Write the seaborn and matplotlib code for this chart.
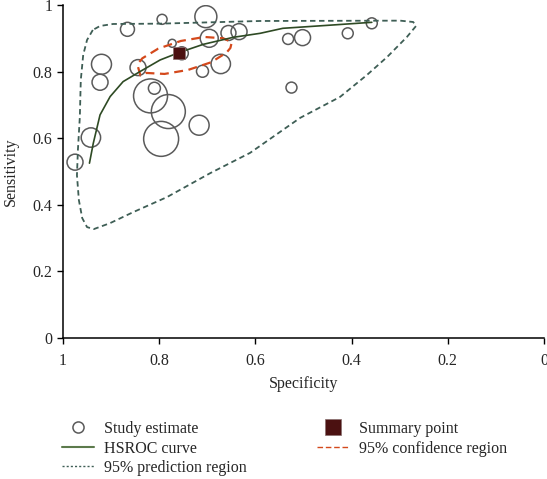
import pandas as pd
import seaborn as sns
import matplotlib.pyplot as plt
from matplotlib.lines import Line2D

# -----------------------------
# DATA
# -----------------------------

study_spec = [0.794, 0.703, 0.866, 0.696, 0.656, 0.634, 0.773, 0.753, 0.920, 0.844,
              0.672, 0.710, 0.923, 0.810, 0.818, 0.781, 0.717, 0.942, 0.796, 0.975,
              0.532, 0.502, 0.408, 0.358, 0.525]
study_sens = [0.957, 0.965, 0.927, 0.900, 0.916, 0.920, 0.885, 0.855, 0.822, 0.812,
              0.823, 0.801, 0.768, 0.750, 0.727, 0.680, 0.639, 0.602, 0.598, 0.528,
              0.898, 0.902, 0.915, 0.945, 0.752]
study_weight = [25, 121, 49, 81, 56, 64, 16, 42, 100, 64,
                94, 36, 64, 36, 289, 289, 100, 94, 306, 64,
                30, 64, 30, 30, 30]

summary_spec = [0.759]
summary_sens = [0.857]

hsroc_spec = [0.945, 0.937, 0.923, 0.902, 0.875, 0.840, 0.798, 0.759, 0.708,
              0.646, 0.590, 0.543, 0.439, 0.358]
hsroc_sens = [0.525, 0.585, 0.670, 0.725, 0.770, 0.800, 0.835, 0.857, 0.882,
              0.903, 0.915, 0.930, 0.940, 0.948]

conf_spec = [0.650, 0.652, 0.660, 0.692, 0.740, 0.789, 0.827, 0.839, 0.844, 0.843,
             0.835, 0.802, 0.755, 0.706, 0.667, 0.656, 0.650]
conf_sens = [0.883, 0.871, 0.857, 0.828, 0.805, 0.793, 0.796, 0.788, 0.814, 0.826,
             0.840, 0.869, 0.892, 0.904, 0.900, 0.893, 0.883]

pred_spec = [0.938, 0.950, 0.958, 0.963, 0.965, 0.969, 0.971, 0.967, 0.960, 0.950,
             0.936, 0.902, 0.854, 0.784, 0.694, 0.611, 0.507, 0.424, 0.368, 0.326,
             0.285, 0.266, 0.272, 0.299, 0.590, 0.798, 0.896, 0.923, 0.938]
pred_sens = [0.925, 0.895, 0.850, 0.775, 0.664, 0.565, 0.489, 0.414, 0.360, 0.333,
             0.327, 0.345, 0.378, 0.423, 0.495, 0.556, 0.661, 0.724, 0.790, 0.844,
             0.904, 0.937, 0.949, 0.953, 0.952, 0.944, 0.943, 0.937, 0.925]

# -----------------------------
# STYLE
# -----------------------------

sns.set_style("ticks")
plt.rcParams['font.family'] = ['Liberation Serif', 'DejaVu Serif']
plt.rcParams['font.size'] = 11.5

c_study = "#5a5a5a"
c_hsroc = "#2e4a24"
c_pred = "#3e5e55"
c_conf = "#d4491c"
c_summary = "#4b1111"

studies = pd.DataFrame({"spec": study_spec, "sens": study_sens, "w": study_weight})

fig = plt.figure(figsize=(5.47, 4.79), dpi=100)
ax = fig.add_axes([63 / 547, 1 - 338 / 479, 481 / 547, 333 / 479])

sns.lineplot(x=pred_spec, y=pred_sens, sort=False, estimator=None, ax=ax,
             color=c_pred, linewidth=1.3, linestyle=(0, (3, 2)))
sns.lineplot(x=conf_spec, y=conf_sens, sort=False, estimator=None, ax=ax,
             color=c_conf, linewidth=1.6, linestyle=(0, (4, 2.5)))
sns.lineplot(x=hsroc_spec, y=hsroc_sens, sort=False, estimator=None, ax=ax,
             color=c_hsroc, linewidth=1.2)

sns.scatterplot(data=studies, x="spec", y="sens", size="w",
                sizes=(2.07 * min(study_weight), 2.07 * max(study_weight)),
                legend=False, ax=ax, marker="o", linewidth=1.1)
for coll in ax.collections:
    coll.set_facecolor("none")
    coll.set_edgecolor(c_study)

ax.scatter(summary_spec, summary_sens, marker="s", s=85, color=c_summary,
           edgecolor="#8a7070", linewidth=0.5, zorder=5)

ax.set_xlim(1, 0)
ax.set_ylim(0, 1)
ax.set_xticks([1, 0.8, 0.6, 0.4, 0.2, 0])
ax.set_xticklabels(["1", "0.8", "0.6", "0.4", "0.2", "0"])
ax.set_yticks([0, 0.2, 0.4, 0.6, 0.8, 1])
ax.set_yticklabels(["0", "0.2", "0.4", "0.6", "0.8", "1"])
ax.set_xlabel("Specificity", labelpad=5)
ax.set_ylabel("Sensitivity", labelpad=10)
ax.tick_params(axis="x", pad=7)
ax.tick_params(length=4, width=1, color="black", labelsize=11.5)
for s in ["left", "bottom"]:
    ax.spines[s].set_linewidth(1.1)
    ax.spines[s].set_color("black")
sns.despine(ax=ax)

handles = [
    Line2D([], [], marker="o", linestyle="none", mfc="none", mec=c_study, ms=8, mew=1.1),
    Line2D([], [], color="#5c7a4c", linewidth=1.5),
    Line2D([], [], color=c_pred, linewidth=1.0, linestyle=(0, (1.5, 1.5))),
    Line2D([], [], marker="s", linestyle="none", color=c_summary, ms=12, mec="#8a7070", mew=0.5),
    Line2D([], [], color=c_conf, linewidth=1.0, linestyle=(0, (4, 2))),
]
labels = ["Study estimate", "HSROC curve", "95% prediction region",
          "Summary point", "95% confidence region"]
fig.legend(handles, labels, loc="upper left", bbox_to_anchor=(62 / 547, 1 - 421 / 479),
           ncol=2, frameon=False, fontsize=11.5, handlelength=2.0, handletextpad=0.6,
           columnspacing=4.45, labelspacing=0.22, borderpad=0, borderaxespad=0)

plt.savefig("out.png", dpi=100)
plt.close(fig)
